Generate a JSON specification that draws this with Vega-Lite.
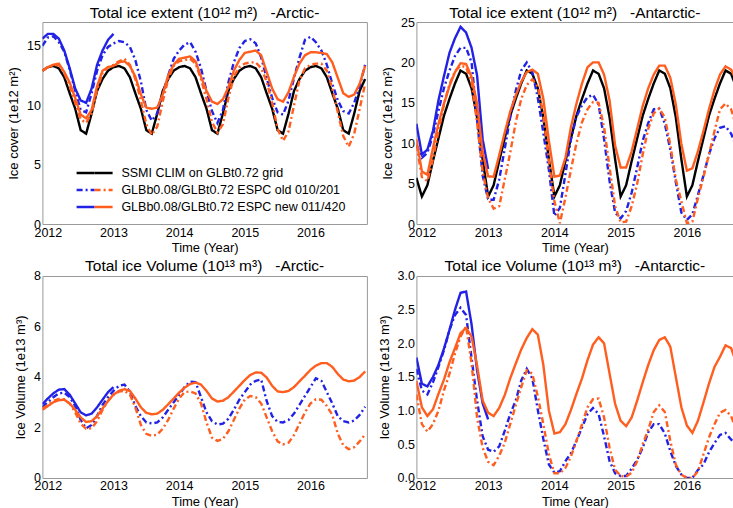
{
  "$schema": "https://vega.github.io/schema/vega-lite/v6.json",
  "padding": {"left": 7.4, "top": 5, "right": 0, "bottom": 1},
  "background": "white",
  "columns": 2,
  "bounds": "flush",
  "spacing": {"row": 52, "column": 49},
  "config": {
    "font": "Liberation Sans",
    "view": {"stroke": null},
    "title": {"fontSize": 15.5, "fontWeight": "normal", "color": "black", "offset": -5, "anchor": "middle", "baseline": "alphabetic"},
    "axis": {"grid": false, "labelFontSize": 12.5, "titleFontSize": 13, "titleFontWeight": "normal", "labelColor": "black", "titleColor": "black", "domainColor": "#999999", "tickColor": "#999999", "tickSize": 0, "labelPadding": 2, "titlePadding": 6, "labelFlush": false, "labelOverlap": false},
    "axisX": {"titlePadding": 3}
  },
  "datasets": {
    "ice": [
      {"t":2011.917,"ec":12.9,"ebo":15.0,"eto":12.9,"ebn":15.6,"etn":12.9,"ac":5.7,"abo":9.8,"ato":9.8,"abn":12.4,"atn":10.5,"vbo":2.8,"vto":2.75,"vbn":2.92,"vtn":2.7,"wbo":1.62,"wto":1.24,"wbn":1.79,"wtn":1.44},
      {"t":2012.0,"ec":13.2,"ebo":15.7,"eto":13.2,"ebn":16.0,"etn":13.2,"ac":3.4,"abo":8.2,"ato":5.8,"abn":8.6,"atn":6.5,"vbo":3.0,"vto":2.9,"vbn":3.15,"vtn":2.85,"wbo":1.3,"wto":0.8,"wbn":1.4,"wtn":1.05},
      {"t":2012.083,"ec":13.3,"ebo":15.8,"eto":13.35,"ebn":16.0,"etn":13.4,"ac":4.8,"abo":8.8,"ato":5.3,"abn":9.2,"atn":6.1,"vbo":3.2,"vto":3.05,"vbn":3.35,"vtn":3.0,"wbo":1.24,"wto":0.69,"wbn":1.36,"wtn":0.92},
      {"t":2012.167,"ec":13.1,"ebo":15.3,"eto":13.4,"ebn":15.6,"etn":13.5,"ac":7.8,"abo":11.0,"ato":8.0,"abn":11.5,"atn":9.4,"vbo":3.35,"vto":3.13,"vbn":3.5,"vtn":3.08,"wbo":1.42,"wto":0.8,"wbn":1.5,"wtn":1.02},
      {"t":2012.25,"ec":12.35,"ebo":14.5,"eto":12.7,"ebn":14.6,"etn":12.8,"ac":10.6,"abo":14.0,"ato":11.5,"abn":15.3,"atn":12.4,"vbo":3.38,"vto":3.12,"vbn":3.52,"vtn":3.1,"wbo":1.65,"wto":1.0,"wbn":1.68,"wtn":1.25},
      {"t":2012.333,"ec":11.0,"ebo":13.0,"eto":11.6,"ebn":13.1,"etn":11.9,"ac":13.4,"abo":16.8,"ato":14.8,"abn":18.3,"atn":14.9,"vbo":3.2,"vto":2.95,"vbn":3.3,"vtn":2.95,"wbo":1.9,"wto":1.3,"wbn":1.92,"wtn":1.46},
      {"t":2012.417,"ec":9.7,"ebo":11.2,"eto":10.2,"ebn":11.4,"etn":10.6,"ac":15.5,"abo":19.0,"ato":17.3,"abn":21.2,"atn":17.1,"vbo":2.85,"vto":2.6,"vbn":2.95,"vtn":2.7,"wbo":2.2,"wto":1.55,"wbn":2.2,"wtn":1.72},
      {"t":2012.5,"ec":7.9,"ebo":9.6,"eto":8.8,"ebn":10.4,"etn":9.2,"ac":17.4,"abo":20.8,"ato":18.9,"abn":23.0,"atn":18.8,"vbo":2.3,"vto":2.15,"vbn":2.6,"vtn":2.4,"wbo":2.42,"wto":1.85,"wbn":2.5,"wtn":1.93},
      {"t":2012.583,"ec":7.6,"ebo":9.4,"eto":8.5,"ebn":10.2,"etn":8.9,"ac":19.0,"abo":21.8,"ato":19.6,"abn":24.4,"atn":19.9,"vbo":1.97,"vto":1.95,"vbn":2.48,"vtn":2.22,"wbo":2.53,"wto":2.1,"wbn":2.75,"wtn":2.15},
      {"t":2012.667,"ec":9.3,"ebo":11.0,"eto":9.3,"ebn":11.4,"etn":9.6,"ac":18.6,"abo":21.8,"ato":19.4,"abn":23.7,"atn":19.8,"vbo":2.1,"vto":1.97,"vbn":2.55,"vtn":2.25,"wbo":2.42,"wto":2.25,"wbn":2.77,"wtn":2.23},
      {"t":2012.75,"ec":11.2,"ebo":12.9,"eto":11.3,"ebn":13.4,"etn":11.6,"ac":16.8,"abo":20.0,"ato":17.5,"abn":21.8,"atn":18.2,"vbo":2.46,"vto":2.25,"vbn":2.8,"vtn":2.45,"wbo":1.78,"wto":1.7,"wbn":2.28,"wtn":2.1},
      {"t":2012.833,"ec":12.2,"ebo":14.2,"eto":12.7,"ebn":14.6,"etn":12.9,"ac":13.2,"abo":13.0,"ato":12.5,"abn":18.4,"atn":14.9,"vbo":2.9,"vto":2.7,"vbn":3.1,"vtn":2.75,"wbo":1.15,"wto":0.9,"wbn":1.6,"wtn":1.67},
      {"t":2012.917,"ec":12.9,"ebo":14.9,"eto":13.2,"ebn":15.5,"etn":13.2,"ac":8.0,"abo":6.0,"ato":6.5,"abn":10.5,"atn":8.9,"vbo":3.2,"vto":3.05,"vbn":3.4,"vtn":3.05,"wbo":0.62,"wto":0.45,"wbn":1.11,"wtn":1.15},
      {"t":2013.0,"ec":13.2,"ebo":15.2,"eto":13.4,"ebn":16.0,"etn":13.3,"ac":3.4,"abo":3.0,"ato":3.2,"abn":6.8,"atn":5.9,"vbo":3.45,"vto":3.3,"vbn":3.6,"vtn":3.3,"wbo":0.42,"wto":0.24,"wbn":0.87,"wtn":0.97},
      {"t":2013.083,"ec":13.3,"ebo":15.4,"eto":13.7,"etn":13.6,"ac":4.8,"abo":3.0,"ato":1.9,"atn":5.85,"vbo":3.65,"vto":3.42,"vtn":3.45,"wbo":0.39,"wto":0.19,"wtn":0.92},
      {"t":2013.167,"ec":13.1,"ebo":15.3,"eto":13.9,"etn":13.7,"ac":7.8,"abo":5.5,"ato":2.2,"atn":8.5,"vbo":3.7,"vto":3.45,"vtn":3.52,"wbo":0.47,"wto":0.33,"wtn":1.04},
      {"t":2013.25,"ec":12.35,"ebo":14.9,"eto":13.4,"etn":13.3,"ac":10.6,"abo":9.3,"ato":5.5,"atn":11.3,"vbo":3.42,"vto":3.3,"vtn":3.45,"wbo":0.7,"wto":0.52,"wtn":1.23},
      {"t":2013.333,"ec":11.0,"ebo":13.8,"eto":12.2,"etn":12.4,"ac":13.4,"abo":13.2,"ato":8.8,"atn":13.9,"vbo":2.85,"vto":2.8,"vtn":3.15,"wbo":0.95,"wto":0.8,"wtn":1.48},
      {"t":2013.417,"ec":9.7,"ebo":12.0,"eto":10.4,"etn":10.9,"ac":15.5,"abo":16.5,"ato":12.6,"atn":15.9,"vbo":2.45,"vto":2.1,"vtn":2.8,"wbo":1.15,"wto":1.08,"wtn":1.7},
      {"t":2013.5,"ec":7.9,"ebo":9.6,"eto":8.4,"etn":9.8,"ac":17.4,"abo":19.0,"ato":15.5,"atn":17.6,"vbo":2.2,"vto":1.75,"vtn":2.58,"wbo":1.45,"wto":1.35,"wtn":1.91},
      {"t":2013.583,"ec":7.6,"ebo":8.7,"eto":7.5,"etn":9.7,"ac":19.0,"abo":20.0,"ato":17.2,"atn":18.8,"vbo":2.16,"vto":1.67,"vtn":2.52,"wbo":1.62,"wto":1.6,"wtn":2.08},
      {"t":2013.667,"ec":9.3,"ebo":9.3,"eto":8.2,"etn":9.8,"ac":18.6,"abo":18.8,"ato":17.9,"atn":19.1,"vbo":2.2,"vto":1.72,"vtn":2.55,"wbo":1.48,"wto":1.55,"wtn":2.21},
      {"t":2013.75,"ec":11.2,"ebo":10.9,"eto":10.3,"etn":10.9,"ac":16.8,"abo":15.6,"ato":17.0,"atn":18.6,"vbo":2.4,"vto":1.95,"vtn":2.7,"wbo":1.01,"wto":1.21,"wtn":2.13},
      {"t":2013.833,"ec":12.2,"ebo":12.5,"eto":12.2,"etn":12.5,"ac":13.2,"abo":11.3,"ato":13.5,"atn":15.5,"vbo":2.7,"vto":2.3,"vtn":2.92,"wbo":0.58,"wto":0.8,"wtn":1.68},
      {"t":2013.917,"ec":12.9,"ebo":13.9,"eto":13.3,"etn":13.4,"ac":8.0,"abo":6.7,"ato":7.8,"atn":10.3,"vbo":3.0,"vto":2.75,"vtn":3.15,"wbo":0.2,"wto":0.35,"wtn":1.0},
      {"t":2014.0,"ec":13.2,"ebo":14.6,"eto":13.7,"etn":13.9,"ac":3.4,"abo":1.0,"ato":2.8,"atn":5.85,"vbo":3.3,"vto":3.15,"vtn":3.38,"wbo":0.08,"wto":0.07,"wtn":0.66},
      {"t":2014.083,"ec":13.3,"ebo":15.1,"eto":13.8,"etn":14.0,"ac":4.8,"abo":2.0,"ato":0.1,"atn":6.0,"vbo":3.6,"vto":3.4,"vtn":3.58,"wbo":0.1,"wto":0.07,"wtn":0.68},
      {"t":2014.167,"ec":13.1,"ebo":15.3,"eto":13.9,"etn":14.1,"ac":7.8,"abo":6.2,"ato":3.3,"atn":8.2,"vbo":3.82,"vto":3.43,"vtn":3.72,"wbo":0.25,"wto":0.15,"wtn":0.8},
      {"t":2014.25,"ec":12.35,"ebo":14.5,"eto":13.5,"etn":13.7,"ac":10.6,"abo":10.5,"ato":6.7,"atn":12.0,"vbo":3.8,"vto":3.35,"vtn":3.78,"wbo":0.37,"wto":0.32,"wtn":1.01},
      {"t":2014.333,"ec":11.0,"ebo":13.1,"eto":12.2,"etn":12.4,"ac":13.4,"abo":13.3,"ato":10.0,"atn":14.9,"vbo":3.2,"vto":2.95,"vtn":3.7,"wbo":0.55,"wto":0.55,"wtn":1.25},
      {"t":2014.417,"ec":9.7,"ebo":11.2,"eto":10.5,"etn":11.2,"ac":15.5,"abo":14.7,"ato":12.6,"atn":17.4,"vbo":2.6,"vto":2.2,"vtn":3.45,"wbo":0.75,"wto":0.8,"wtn":1.48},
      {"t":2014.5,"ec":7.9,"ebo":9.5,"eto":8.6,"etn":10.3,"ac":17.4,"abo":15.7,"ato":14.2,"atn":19.4,"vbo":2.25,"vto":1.6,"vtn":3.15,"wbo":0.95,"wto":1.05,"wtn":1.75},
      {"t":2014.583,"ec":7.6,"ebo":8.5,"eto":7.7,"etn":10.1,"ac":19.0,"abo":16.0,"ato":15.1,"atn":20.0,"vbo":2.12,"vto":1.47,"vtn":3.03,"wbo":1.04,"wto":1.17,"wtn":1.98},
      {"t":2014.667,"ec":9.3,"ebo":9.6,"eto":8.4,"etn":10.5,"ac":18.6,"abo":14.8,"ato":15.0,"atn":20.0,"vbo":2.15,"vto":1.55,"vtn":3.06,"wbo":0.95,"wto":1.18,"wtn":2.09},
      {"t":2014.75,"ec":11.2,"ebo":11.9,"eto":10.6,"etn":11.5,"ac":16.8,"abo":10.5,"ato":12.0,"atn":18.5,"vbo":2.35,"vto":1.85,"vtn":3.2,"wbo":0.62,"wto":0.9,"wtn":2.0},
      {"t":2014.833,"ec":12.2,"ebo":13.6,"eto":12.4,"etn":12.9,"ac":13.2,"abo":5.3,"ato":7.0,"atn":15.3,"vbo":2.7,"vto":2.3,"vtn":3.42,"wbo":0.25,"wto":0.45,"wtn":1.55},
      {"t":2014.917,"ec":12.9,"ebo":14.8,"eto":13.2,"etn":13.8,"ac":8.0,"abo":1.4,"ato":2.2,"atn":9.7,"vbo":3.1,"vto":2.75,"vtn":3.65,"wbo":0.07,"wto":0.12,"wtn":1.1},
      {"t":2015.0,"ec":13.2,"ebo":15.4,"eto":13.5,"etn":14.4,"ac":3.4,"abo":0.7,"ato":0.2,"atn":7.0,"vbo":3.4,"vto":3.1,"vtn":3.88,"wbo":0.03,"wto":0.03,"wtn":0.85},
      {"t":2015.083,"ec":13.3,"ebo":15.55,"eto":13.6,"etn":14.5,"ac":4.8,"abo":1.6,"ato":0.3,"atn":7.0,"vbo":3.7,"vto":3.25,"vtn":4.08,"wbo":0.03,"wto":0.02,"wtn":0.77},
      {"t":2015.167,"ec":13.1,"ebo":15.2,"eto":13.6,"etn":14.6,"ac":7.8,"abo":3.9,"ato":2.2,"atn":9.0,"vbo":3.85,"vto":3.2,"vtn":4.18,"wbo":0.14,"wto":0.08,"wtn":0.9},
      {"t":2015.25,"ec":12.35,"ebo":14.0,"eto":13.1,"etn":14.2,"ac":10.6,"abo":7.0,"ato":5.0,"atn":11.8,"vbo":3.9,"vto":2.95,"vtn":4.17,"wbo":0.27,"wto":0.25,"wtn":1.15},
      {"t":2015.333,"ec":11.0,"ebo":12.3,"eto":12.0,"etn":12.8,"ac":13.4,"abo":10.3,"ato":8.6,"atn":14.6,"vbo":3.05,"vto":2.4,"vtn":3.98,"wbo":0.45,"wto":0.5,"wtn":1.42},
      {"t":2015.417,"ec":9.7,"ebo":10.6,"eto":10.2,"etn":11.4,"ac":15.5,"abo":12.5,"ato":11.8,"atn":16.8,"vbo":2.45,"vto":1.85,"vtn":3.65,"wbo":0.68,"wto":0.72,"wtn":1.68},
      {"t":2015.5,"ec":7.9,"ebo":9.4,"eto":8.0,"etn":10.5,"ac":17.4,"abo":14.2,"ato":13.7,"atn":18.5,"vbo":2.22,"vto":1.45,"vtn":3.43,"wbo":0.8,"wto":0.98,"wtn":1.9},
      {"t":2015.583,"ec":7.6,"ebo":9.2,"eto":7.0,"etn":10.3,"ac":19.0,"abo":14.3,"ato":14.3,"atn":19.6,"vbo":2.2,"vto":1.33,"vtn":3.4,"wbo":0.8,"wto":1.08,"wtn":2.05},
      {"t":2015.667,"ec":9.3,"ebo":10.4,"eto":7.8,"etn":11.1,"ac":18.6,"abo":12.4,"ato":13.2,"atn":19.6,"vbo":2.3,"vto":1.4,"vtn":3.45,"wbo":0.66,"wto":0.98,"wtn":2.09},
      {"t":2015.75,"ec":11.2,"ebo":12.3,"eto":10.0,"etn":12.4,"ac":16.8,"abo":9.2,"ato":9.8,"atn":18.1,"vbo":2.55,"vto":1.7,"vtn":3.6,"wbo":0.4,"wto":0.55,"wtn":1.95},
      {"t":2015.833,"ec":12.2,"ebo":14.0,"eto":12.1,"etn":13.5,"ac":13.2,"abo":5.2,"ato":5.5,"atn":14.8,"vbo":2.9,"vto":2.15,"vtn":3.83,"wbo":0.18,"wto":0.2,"wtn":1.5},
      {"t":2015.917,"ec":12.9,"ebo":15.5,"eto":13.1,"etn":14.2,"ac":8.0,"abo":1.4,"ato":2.8,"atn":9.9,"vbo":3.25,"vto":2.6,"vtn":4.05,"wbo":0.05,"wto":0.05,"wtn":1.05},
      {"t":2016.0,"ec":13.2,"ebo":15.75,"eto":13.4,"etn":14.45,"ac":3.4,"abo":0.5,"ato":0.1,"atn":6.6,"vbo":3.6,"vto":2.95,"vtn":4.28,"wbo":0.0,"wto":0.0,"wtn":0.78},
      {"t":2016.083,"ec":13.3,"ebo":15.3,"eto":13.5,"etn":14.45,"ac":4.8,"abo":1.2,"ato":0.3,"atn":6.9,"vbo":3.95,"vto":3.12,"vtn":4.45,"wbo":0.0,"wto":0.0,"wtn":0.67},
      {"t":2016.167,"ec":13.1,"ebo":14.6,"eto":13.5,"etn":14.4,"ac":7.8,"abo":3.6,"ato":3.2,"atn":9.0,"vbo":3.85,"vto":3.1,"vtn":4.55,"wbo":0.12,"wto":0.1,"wtn":0.85},
      {"t":2016.25,"ec":12.35,"ebo":13.4,"eto":12.9,"etn":14.3,"ac":10.6,"abo":6.0,"ato":5.8,"atn":11.5,"vbo":3.4,"vto":2.85,"vtn":4.55,"wbo":0.2,"wto":0.35,"wtn":1.12},
      {"t":2016.333,"ec":11.0,"ebo":11.8,"eto":11.4,"etn":13.6,"ac":13.4,"abo":8.6,"ato":8.6,"atn":14.2,"vbo":2.95,"vto":2.5,"vtn":4.4,"wbo":0.38,"wto":0.6,"wtn":1.4},
      {"t":2016.417,"ec":9.7,"ebo":10.4,"eto":9.4,"etn":12.3,"ac":15.5,"abo":10.6,"ato":11.5,"atn":16.6,"vbo":2.45,"vto":1.75,"vtn":4.12,"wbo":0.52,"wto":0.8,"wtn":1.65},
      {"t":2016.5,"ec":7.9,"ebo":9.5,"eto":7.4,"etn":11.0,"ac":17.4,"abo":11.9,"ato":14.2,"atn":18.5,"vbo":2.25,"vto":1.3,"vtn":3.9,"wbo":0.64,"wto":0.97,"wtn":1.8},
      {"t":2016.583,"ec":7.6,"ebo":9.3,"eto":6.5,"etn":10.7,"ac":19.0,"abo":12.1,"ato":14.9,"atn":19.5,"vbo":2.2,"vto":1.14,"vtn":3.83,"wbo":0.67,"wto":1.01,"wtn":1.97},
      {"t":2016.667,"ec":9.3,"ebo":10.2,"eto":7.6,"etn":10.9,"ac":18.6,"abo":11.2,"ato":14.2,"atn":19.1,"vbo":2.28,"vto":1.22,"vtn":3.86,"wbo":0.57,"wto":0.92,"wtn":1.93},
      {"t":2016.75,"ec":11.2,"ebo":11.6,"eto":9.7,"etn":11.8,"ac":16.8,"abo":9.5,"ato":12.0,"atn":17.8,"vbo":2.5,"vto":1.45,"vtn":4.0,"wbo":0.52,"wto":0.7,"wtn":1.7},
      {"t":2016.833,"ec":12.2,"ebo":13.4,"eto":11.8,"etn":13.3,"ac":13.2,"abo":7.5,"ato":8.5,"atn":15.0,"vbo":2.82,"vto":1.73,"vtn":4.22,"wbo":0.48,"wto":0.5,"wtn":1.3}
    ]
  },
  "concat": [
    {
      "title": {"text": "Total ice extent (10¹² m²)\u00a0\u00a0\u00a0-Arctic-", "frame": "group"},
      "width": 324.5, "height": 202,
      "data": {"name": "ice"},
      "transform": [{"fold": ["ec","ebo","eto","ebn","etn"], "as": ["s","v"]}, {"filter": "isValid(datum.v)"}],
      "layer": [
        {
          "transform": [{"filter": {"field": "s", "oneOf": ["ec","ebo","ebn"]}}],
          "mark": {"type": "line", "strokeWidth": 2.4, "clip": true},
          "encoding": {
            "x": {"field": "t", "type": "quantitative", "scale": {"domain": [2011.917, 2016.86], "nice": false, "zero": false},
              "axis": {"orient": "bottom", "title": "Time (Year)", "labelOverlap": false, "values": [2012,2012.2,2012.4,2012.6,2012.8,2013,2013.2,2013.4,2013.6,2013.8,2014,2014.2,2014.4,2014.6,2014.8,2015,2015.2,2015.4,2015.6,2015.8,2016,2016.2,2016.4,2016.6,2016.8], "labelExpr": "abs(datum.value - round(datum.value)) < 0.01 ? format(round(datum.value), 'd') : ''", "encode": {"ticks": {"update": {"y2": {"signal": "abs(datum.value - round(datum.value)) < 0.01 ? -6 : -3"}}}}}},
            "y": {"field": "v", "type": "quantitative", "scale": {"domain": [0, 17], "nice": false, "zero": false},
              "axis": {"orient": "left", "title": "Ice cover (1e12 m²)", "labelOverlap": false, "values": [0,1,2,3,4,5,6,7,8,9,10,11,12,13,14,15,16,17], "labelExpr": "abs(datum.value/5 - round(datum.value/5)) < 0.001 ? format(datum.value, 'd') : ''", "encode": {"ticks": {"update": {"x2": {"signal": "abs(datum.value/5 - round(datum.value/5)) < 0.001 ? 6 : 3"}}}, "labels": {"update": {"dy": {"signal": "datum.value == 0 ? -7 : 0"}}}}}},
            "color": {"field": "s", "type": "nominal", "scale": {"domain": ["ec","ebo","ebn"], "range": ["#000000","#2222e6","#2222e6"]},
              "legend": {"title": null, "orient": "none", "legendX": 32.7, "legendY": 140.5, "values": ["ec","ebo","ebn"], "symbolType": "M-1,0H1", "symbolSize": 324, "symbolStrokeWidth": 2.6, "labelFontSize": 12.5, "labelColor": "black", "labelLimit": 0, "labelOffset": 25.3, "padding": 0, "rowPadding": 0, "labelExpr": "datum.value == 'ec' ? 'SSMI CLIM on GLBt0.72 grid' : datum.value == 'ebo' ? 'GLBb0.08/GLBt0.72 ESPC old 010/201' : 'GLBb0.08/GLBt0.72 ESPC new 011/420'"}},
            "strokeDash": {"field": "s", "type": "nominal", "scale": {"domain": ["ec","ebo","ebn"], "range": [[1,0],[6,3,2,3],[1,0]]},
              "legend": {"title": null, "orient": "none", "legendX": 32.7, "legendY": 140.5, "values": ["ec","ebo","ebn"], "symbolType": "M-1,0H1", "symbolSize": 324, "symbolStrokeWidth": 2.6, "labelFontSize": 12.5, "labelColor": "black", "labelLimit": 0, "labelOffset": 25.3, "padding": 0, "rowPadding": 0, "labelExpr": "datum.value == 'ec' ? 'SSMI CLIM on GLBt0.72 grid' : datum.value == 'ebo' ? 'GLBb0.08/GLBt0.72 ESPC old 010/201' : 'GLBb0.08/GLBt0.72 ESPC new 011/420'"}}
          }
        },
        {
          "transform": [{"filter": {"field": "s", "oneOf": ["eto","etn"]}}],
          "mark": {"type": "line", "strokeWidth": 2.4, "clip": true},
          "encoding": {
            "x": {"field": "t", "type": "quantitative", "scale": {"domain": [2011.917, 2016.86], "nice": false, "zero": false},
              "axis": {"orient": "top", "title": null, "labels": false, "values": [2012,2012.2,2012.4,2012.6,2012.8,2013,2013.2,2013.4,2013.6,2013.8,2014,2014.2,2014.4,2014.6,2014.8,2015,2015.2,2015.4,2015.6,2015.8,2016,2016.2,2016.4,2016.6,2016.8], "encode": {"ticks": {"update": {"y2": {"signal": "abs(datum.value - round(datum.value)) < 0.01 ? 6 : 3"}}}}}},
            "y": {"field": "v", "type": "quantitative", "scale": {"domain": [0, 17], "nice": false, "zero": false},
              "axis": {"orient": "right", "title": null, "labels": false, "values": [0,1,2,3,4,5,6,7,8,9,10,11,12,13,14,15,16,17], "encode": {"ticks": {"update": {"x2": {"signal": "abs(datum.value/5 - round(datum.value/5)) < 0.001 ? -6 : -3"}}}}}},
            "color": {"field": "s", "type": "nominal", "scale": {"domain": ["ec","eto","etn"], "range": ["#000000","#ff5e1f","#ff5e1f"]},
              "legend": {"title": null, "orient": "none", "legendX": 32.7, "legendY": 140.5, "values": ["ec","eto","etn"], "symbolType": "M1,0H3", "symbolSize": 324, "symbolStrokeWidth": 2.6, "labelFontSize": 12.5, "labelExpr": "''", "labelOffset": 25.3, "padding": 0, "rowPadding": 0}},
            "strokeDash": {"field": "s", "type": "nominal", "scale": {"domain": ["ec","eto","etn"], "range": [[1,0],[6,3,2,3],[1,0]]},
              "legend": {"title": null, "orient": "none", "legendX": 32.7, "legendY": 140.5, "values": ["ec","eto","etn"], "symbolType": "M1,0H3", "symbolSize": 324, "symbolStrokeWidth": 2.6, "labelFontSize": 12.5, "labelExpr": "''", "labelOffset": 25.3, "padding": 0, "rowPadding": 0}}
          }
        }
      ],
      "resolve": {"scale": {"color": "independent", "strokeDash": "independent"}, "legend": {"color": "independent", "strokeDash": "independent"}, "axis": {"x": "independent", "y": "independent"}}
    },
    {
      "title": {"text": "Total ice extent (10¹² m²)\u00a0\u00a0\u00a0-Antarctic-", "frame": "group"},
      "width": 317, "height": 202,
      "data": {"name": "ice"},
      "transform": [{"fold": ["ac","abo","ato","abn","atn"], "as": ["s","v"]}, {"filter": "isValid(datum.v)"}],
      "layer": [
        {
          "transform": [{"filter": {"field": "s", "oneOf": ["ac","abo","abn"]}}],
          "mark": {"type": "line", "strokeWidth": 2.4, "clip": true},
          "encoding": {
            "x": {"field": "t", "type": "quantitative", "scale": {"domain": [2011.917, 2016.702], "nice": false, "zero": false},
              "axis": {"orient": "bottom", "title": "Time (Year)", "labelOverlap": false, "values": [2012,2012.2,2012.4,2012.6,2012.8,2013,2013.2,2013.4,2013.6,2013.8,2014,2014.2,2014.4,2014.6,2014.8,2015,2015.2,2015.4,2015.6,2015.8,2016,2016.2,2016.4,2016.6], "labelExpr": "abs(datum.value - round(datum.value)) < 0.01 ? format(round(datum.value), 'd') : ''", "encode": {"ticks": {"update": {"y2": {"signal": "abs(datum.value - round(datum.value)) < 0.01 ? -6 : -3"}}}}}},
            "y": {"field": "v", "type": "quantitative", "scale": {"domain": [0, 25], "nice": false, "zero": false},
              "axis": {"orient": "left", "title": "Ice cover (1e12 m²)", "labelOverlap": false, "values": [0,1,2,3,4,5,6,7,8,9,10,11,12,13,14,15,16,17,18,19,20,21,22,23,24,25], "labelExpr": "abs(datum.value/5 - round(datum.value/5)) < 0.001 ? format(datum.value, 'd') : ''", "encode": {"ticks": {"update": {"x2": {"signal": "abs(datum.value/5 - round(datum.value/5)) < 0.001 ? 6 : 3"}}}, "labels": {"update": {"dy": {"signal": "datum.value == 0 ? -7 : 0"}}}}}},
            "color": {"field": "s", "type": "nominal", "scale": {"domain": ["ac","abo","abn"], "range": ["#000000","#2222e6","#2222e6"]}, "legend": null},
            "strokeDash": {"field": "s", "type": "nominal", "scale": {"domain": ["ac","abo","abn"], "range": [[1,0],[6,3,2,3],[1,0]]}, "legend": null}
          }
        },
        {
          "transform": [{"filter": {"field": "s", "oneOf": ["ato","atn"]}}],
          "mark": {"type": "line", "strokeWidth": 2.4, "clip": true},
          "encoding": {
            "x": {"field": "t", "type": "quantitative", "scale": {"domain": [2011.917, 2016.702], "nice": false, "zero": false},
              "axis": {"orient": "top", "title": null, "labels": false, "values": [2012,2012.2,2012.4,2012.6,2012.8,2013,2013.2,2013.4,2013.6,2013.8,2014,2014.2,2014.4,2014.6,2014.8,2015,2015.2,2015.4,2015.6,2015.8,2016,2016.2,2016.4,2016.6], "encode": {"ticks": {"update": {"y2": {"signal": "abs(datum.value - round(datum.value)) < 0.01 ? 6 : 3"}}}}}},
            "y": {"field": "v", "type": "quantitative", "scale": {"domain": [0, 25], "nice": false, "zero": false}, "axis": null},
            "color": {"field": "s", "type": "nominal", "scale": {"domain": ["ato","atn"], "range": ["#ff5e1f","#ff5e1f"]}, "legend": null},
            "strokeDash": {"field": "s", "type": "nominal", "scale": {"domain": ["ato","atn"], "range": [[6,3,2,3],[1,0]]}, "legend": null}
          }
        }
      ],
      "resolve": {"scale": {"color": "independent", "strokeDash": "independent"}, "axis": {"x": "independent", "y": "independent"}}
    },
    {
      "title": {"text": "Total ice Volume (10¹³ m³)\u00a0\u00a0\u00a0-Arctic-", "frame": "group"},
      "width": 324.5, "height": 202,
      "data": {"name": "ice"},
      "transform": [{"fold": ["vbo","vto","vbn","vtn"], "as": ["s","v"]}, {"filter": "isValid(datum.v)"}],
      "layer": [
        {
          "transform": [{"filter": {"field": "s", "oneOf": ["vbo","vbn"]}}],
          "mark": {"type": "line", "strokeWidth": 2.4, "clip": true},
          "encoding": {
            "x": {"field": "t", "type": "quantitative", "scale": {"domain": [2011.917, 2016.86], "nice": false, "zero": false},
              "axis": {"orient": "bottom", "title": "Time (Year)", "labelOverlap": false, "values": [2012,2012.2,2012.4,2012.6,2012.8,2013,2013.2,2013.4,2013.6,2013.8,2014,2014.2,2014.4,2014.6,2014.8,2015,2015.2,2015.4,2015.6,2015.8,2016,2016.2,2016.4,2016.6,2016.8], "labelExpr": "abs(datum.value - round(datum.value)) < 0.01 ? format(round(datum.value), 'd') : ''", "encode": {"ticks": {"update": {"y2": {"signal": "abs(datum.value - round(datum.value)) < 0.01 ? -6 : -3"}}}}}},
            "y": {"field": "v", "type": "quantitative", "scale": {"domain": [0, 8], "nice": false, "zero": false},
              "axis": {"orient": "left", "title": "Ice Volume (1e13 m³)", "labelOverlap": false, "values": [0,0.5,1,1.5,2,2.5,3,3.5,4,4.5,5,5.5,6,6.5,7,7.5,8], "labelExpr": "abs(datum.value/2 - round(datum.value/2)) < 0.001 ? format(datum.value, 'd') : ''", "encode": {"ticks": {"update": {"x2": {"signal": "abs(datum.value/2 - round(datum.value/2)) < 0.001 ? 6 : 3"}}}, "labels": {"update": {"dy": {"signal": "datum.value == 0 ? -7 : 0"}}}}}},
            "color": {"field": "s", "type": "nominal", "scale": {"domain": ["vbo","vbn"], "range": ["#2222e6","#2222e6"]}, "legend": null},
            "strokeDash": {"field": "s", "type": "nominal", "scale": {"domain": ["vbo","vbn"], "range": [[6,3,2,3],[1,0]]}, "legend": null}
          }
        },
        {
          "transform": [{"filter": {"field": "s", "oneOf": ["vto","vtn"]}}],
          "mark": {"type": "line", "strokeWidth": 2.4, "clip": true},
          "encoding": {
            "x": {"field": "t", "type": "quantitative", "scale": {"domain": [2011.917, 2016.86], "nice": false, "zero": false},
              "axis": {"orient": "top", "title": null, "labels": false, "values": [2012,2012.2,2012.4,2012.6,2012.8,2013,2013.2,2013.4,2013.6,2013.8,2014,2014.2,2014.4,2014.6,2014.8,2015,2015.2,2015.4,2015.6,2015.8,2016,2016.2,2016.4,2016.6,2016.8], "encode": {"ticks": {"update": {"y2": {"signal": "abs(datum.value - round(datum.value)) < 0.01 ? 6 : 3"}}}}}},
            "y": {"field": "v", "type": "quantitative", "scale": {"domain": [0, 8], "nice": false, "zero": false},
              "axis": {"orient": "right", "title": null, "labels": false, "values": [0,0.5,1,1.5,2,2.5,3,3.5,4,4.5,5,5.5,6,6.5,7,7.5,8], "encode": {"ticks": {"update": {"x2": {"signal": "abs(datum.value/2 - round(datum.value/2)) < 0.001 ? -6 : -3"}}}}}},
            "color": {"field": "s", "type": "nominal", "scale": {"domain": ["vto","vtn"], "range": ["#ff5e1f","#ff5e1f"]}, "legend": null},
            "strokeDash": {"field": "s", "type": "nominal", "scale": {"domain": ["vto","vtn"], "range": [[6,3,2,3],[1,0]]}, "legend": null}
          }
        }
      ],
      "resolve": {"scale": {"color": "independent", "strokeDash": "independent"}, "axis": {"x": "independent", "y": "independent"}}
    },
    {
      "title": {"text": "Total ice Volume (10¹³ m³)\u00a0\u00a0\u00a0-Antarctic-", "frame": "group"},
      "width": 317, "height": 202,
      "data": {"name": "ice"},
      "transform": [{"fold": ["wbo","wto","wbn","wtn"], "as": ["s","v"]}, {"filter": "isValid(datum.v)"}],
      "layer": [
        {
          "transform": [{"filter": {"field": "s", "oneOf": ["wbo","wbn"]}}],
          "mark": {"type": "line", "strokeWidth": 2.4, "clip": true},
          "encoding": {
            "x": {"field": "t", "type": "quantitative", "scale": {"domain": [2011.917, 2016.702], "nice": false, "zero": false},
              "axis": {"orient": "bottom", "title": "Time (Year)", "labelOverlap": false, "values": [2012,2012.2,2012.4,2012.6,2012.8,2013,2013.2,2013.4,2013.6,2013.8,2014,2014.2,2014.4,2014.6,2014.8,2015,2015.2,2015.4,2015.6,2015.8,2016,2016.2,2016.4,2016.6], "labelExpr": "abs(datum.value - round(datum.value)) < 0.01 ? format(round(datum.value), 'd') : ''", "encode": {"ticks": {"update": {"y2": {"signal": "abs(datum.value - round(datum.value)) < 0.01 ? -6 : -3"}}}}}},
            "y": {"field": "v", "type": "quantitative", "scale": {"domain": [0, 3], "nice": false, "zero": false},
              "axis": {"orient": "left", "title": "Ice Volume (1e13 m³)", "labelOverlap": false, "values": [0,0.1,0.2,0.3,0.4,0.5,0.6,0.7,0.8,0.9,1,1.1,1.2,1.3,1.4,1.5,1.6,1.7,1.8,1.9,2,2.1,2.2,2.3,2.4,2.5,2.6,2.7,2.8,2.9,3], "labelExpr": "abs(datum.value*2 - round(datum.value*2)) < 0.001 ? format(datum.value, '.1f') : ''", "encode": {"ticks": {"update": {"x2": {"signal": "abs(datum.value*2 - round(datum.value*2)) < 0.001 ? 6 : 3"}}}, "labels": {"update": {"dy": {"signal": "datum.value == 0 ? -7 : 0"}}}}}},
            "color": {"field": "s", "type": "nominal", "scale": {"domain": ["wbo","wbn"], "range": ["#2222e6","#2222e6"]}, "legend": null},
            "strokeDash": {"field": "s", "type": "nominal", "scale": {"domain": ["wbo","wbn"], "range": [[6,3,2,3],[1,0]]}, "legend": null}
          }
        },
        {
          "transform": [{"filter": {"field": "s", "oneOf": ["wto","wtn"]}}],
          "mark": {"type": "line", "strokeWidth": 2.4, "clip": true},
          "encoding": {
            "x": {"field": "t", "type": "quantitative", "scale": {"domain": [2011.917, 2016.702], "nice": false, "zero": false},
              "axis": {"orient": "top", "title": null, "labels": false, "values": [2012,2012.2,2012.4,2012.6,2012.8,2013,2013.2,2013.4,2013.6,2013.8,2014,2014.2,2014.4,2014.6,2014.8,2015,2015.2,2015.4,2015.6,2015.8,2016,2016.2,2016.4,2016.6], "encode": {"ticks": {"update": {"y2": {"signal": "abs(datum.value - round(datum.value)) < 0.01 ? 6 : 3"}}}}}},
            "y": {"field": "v", "type": "quantitative", "scale": {"domain": [0, 3], "nice": false, "zero": false}, "axis": null},
            "color": {"field": "s", "type": "nominal", "scale": {"domain": ["wto","wtn"], "range": ["#ff5e1f","#ff5e1f"]}, "legend": null},
            "strokeDash": {"field": "s", "type": "nominal", "scale": {"domain": ["wto","wtn"], "range": [[6,3,2,3],[1,0]]}, "legend": null}
          }
        }
      ],
      "resolve": {"scale": {"color": "independent", "strokeDash": "independent"}, "axis": {"x": "independent", "y": "independent"}}
    }
  ]
}
